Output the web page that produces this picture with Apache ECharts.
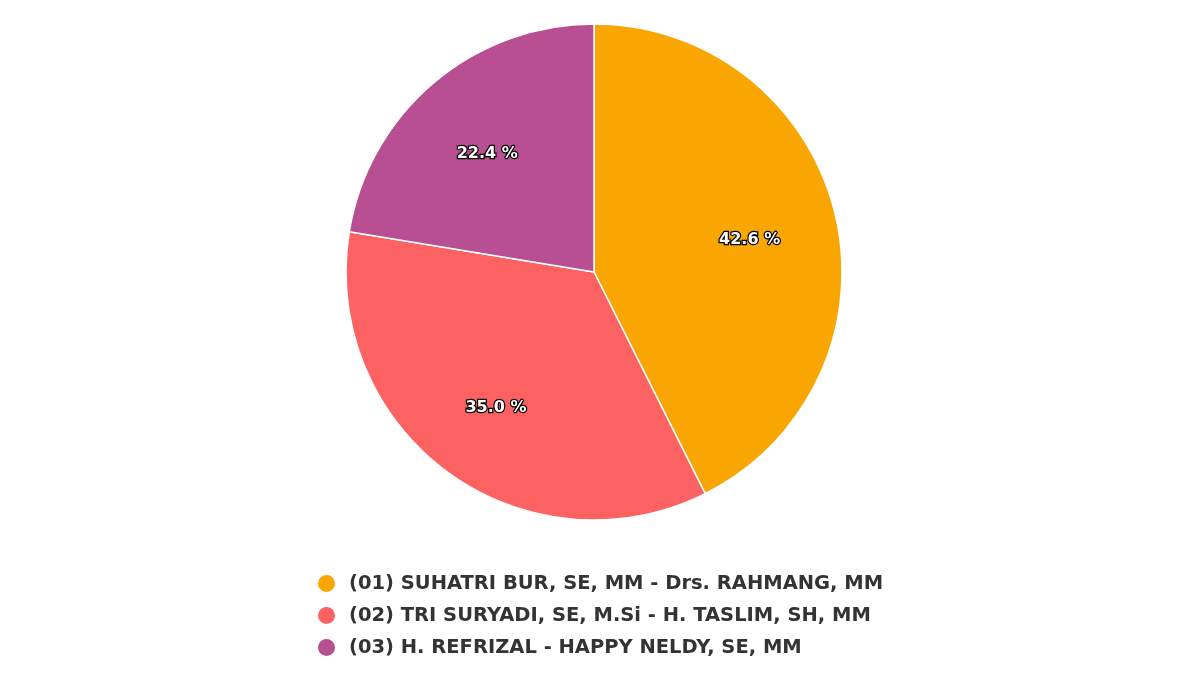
<!DOCTYPE html>
<html>
<head>
<meta charset="utf-8">
<script src="https://cdn.jsdelivr.net/npm/echarts@6/dist/echarts.min.js"></script>
<style>
  html, body { margin: 0; padding: 0; background: #fff; }
  #chart { width: 1200px; height: 675px; }
</style>
</head>
<body>
<div id="chart"></div>
<script>
var names = [
    '(01) SUHATRI BUR, SE, MM - Drs. RAHMANG, MM',
    '(02) TRI SURYADI, SE, M.Si - H. TASLIM, SH, MM',
    '(03) H. REFRIZAL - HAPPY NELDY, SE, MM'
];
var shares = [42.6, 35.0, 22.4];
var colors = ['#f9a602', '#fd6262', '#b84f92'];

var myChart = echarts.init(document.getElementById('chart'));

var pieData = names.map(function (n, i) {
    return { name: n, value: shares[i], itemStyle: { color: colors[i] } };
});
// same slices, transparent, only to put the labels a bit further out
var labelData = names.map(function (n, i) {
    return { name: n, value: shares[i], itemStyle: { color: 'rgba(0,0,0,0)' } };
});

var option = {
    animation: false,
    legend: {
        orient: 'vertical',
        left: 311,
        top: 568,
        itemWidth: 19,
        itemHeight: 19,
        itemGap: 11,
        icon: 'circle',
        data: names.map(function (n, i) {
            return { name: n, itemStyle: { color: colors[i], opacity: 1 } };
        }),
        textStyle: {
            fontFamily: 'DejaVu Sans',
            fontSize: 19.5,
            fontWeight: 'bold',
            color: '#333',
            padding: [0, 0, 0, 8]
        }
    },
    series: [
        {
            type: 'pie',
            center: ['49.5%', 272],
            radius: 248,
            startAngle: 90,
            clockwise: true,
            silent: true,
            label: { show: false },
            labelLine: { show: false },
            itemStyle: { borderColor: '#fff', borderWidth: 1.5 },
            data: pieData
        },
        {
            type: 'pie',
            center: ['49.5%', 272],
            radius: [70, 248],
            startAngle: 90,
            clockwise: true,
            silent: true,
            legendHoverLink: false,
            label: {
                show: true,
                position: 'inside',
                offset: [-2, 5],
                formatter: function (p) { return p.value.toFixed(1) + ' %'; },
                fontFamily: 'DejaVu Sans',
                fontSize: 16,
                fontWeight: 'bold',
                color: '#fff',
                textBorderColor: '#000',
                textBorderWidth: 2.5
            },
            labelLine: { show: false },
            data: labelData
        }
    ]
};

myChart.setOption(option);
</script>
</body>
</html>
